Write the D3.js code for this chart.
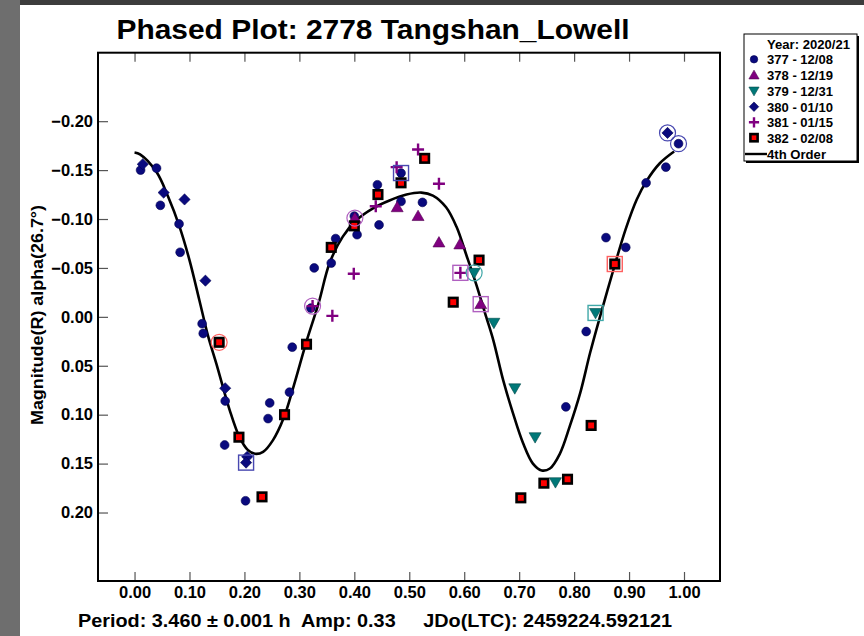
<!DOCTYPE html>
<html>
<head>
<meta charset="utf-8">
<script src="https://cdn.jsdelivr.net/npm/d3@7"></script>
<style>
  html, body { margin: 0; padding: 0; background: #ffffff; }
  svg { display: block; }
  text { font-family: "Liberation Sans", Arial, Helvetica, sans-serif; font-weight: bold; fill: #000; }
</style>
</head>
<body>
<svg id="chart" width="864" height="636"></svg>
<script>
// ---- Observation sessions (phase, reduced magnitude) ----
// First point of each session gets a ring, last point a box.
const s377Phase = [0.990, 0.011, 0.040, 0.047, 0.081, 0.083, 0.123, 0.125, 0.165, 0.164, 0.202, 0.243, 0.246, 0.282, 0.287, 0.321, 0.327, 0.358, 0.366, 0.400, 0.405, 0.442, 0.445, 0.485, 0.524, 0.785, 0.822, 0.858, 0.894, 0.931, 0.967, 0.485];
const s377Mag   = [-0.177, -0.150, -0.152, -0.114, -0.095, -0.066, 0.007, 0.017, 0.086, 0.131, 0.188, 0.104, 0.088, 0.077, 0.031, -0.009, -0.050, -0.055, -0.080, -0.103, -0.084, -0.135, -0.094, -0.118, -0.117, 0.092, 0.015, -0.081, -0.071, -0.137, -0.153, -0.147];

const s378Phase = [0.401, 0.478, 0.516, 0.554, 0.592, 0.630];
const s378Mag   = [-0.101, -0.112, -0.103, -0.076, -0.074, -0.013];

const s379Phase = [0.618, 0.654, 0.692, 0.729, 0.766, 0.839];
const s379Mag   = [-0.045, 0.006, 0.073, 0.123, 0.169, -0.004];

const s380Phase = [0.970, 0.015, 0.053, 0.091, 0.129, 0.165, 0.205, 0.203];
const s380Mag   = [-0.188, -0.156, -0.127, -0.120, -0.037, 0.073, 0.143, 0.149];

const s381Phase = [0.324, 0.360, 0.399, 0.439, 0.477, 0.516, 0.554, 0.593];
const s381Mag   = [-0.011, -0.001, -0.044, -0.113, -0.153, -0.171, -0.136, -0.045];

const s382Phase = [0.154, 0.190, 0.232, 0.273, 0.313, 0.358, 0.400, 0.443, 0.485, 0.528, 0.580, 0.627, 0.703, 0.745, 0.788, 0.831, 0.874];
const s382Mag   = [0.026, 0.123, 0.184, 0.100, 0.028, -0.071, -0.093, -0.125, -0.137, -0.162, -0.015, -0.058, 0.185, 0.170, 0.166, 0.111, -0.054];

// 4th order Fourier fit, sampled
const fitPhase = [0.000, 0.010, 0.040, 0.061, 0.082, 0.100, 0.118, 0.134, 0.149, 0.173, 0.191, 0.206, 0.219, 0.234, 0.252, 0.271, 0.290, 0.313, 0.335, 0.355, 0.379, 0.404, 0.434, 0.464, 0.495, 0.522, 0.543, 0.567, 0.586, 0.604, 0.622, 0.640, 0.653, 0.671, 0.689, 0.707, 0.725, 0.741, 0.756, 0.774, 0.792, 0.811, 0.829, 0.847, 0.874, 0.894, 0.914, 0.932, 0.956, 0.982];
const fitMag   = [-0.168, -0.166, -0.148, -0.123, -0.092, -0.058, -0.017, 0.020, 0.048, 0.095, 0.123, 0.136, 0.140, 0.138, 0.126, 0.104, 0.070, 0.025, -0.014, -0.055, -0.082, -0.099, -0.111, -0.119, -0.125, -0.127, -0.124, -0.112, -0.092, -0.063, -0.033, 0.000, 0.024, 0.065, 0.099, 0.129, 0.150, 0.157, 0.155, 0.140, 0.112, 0.078, 0.037, 0.000, -0.053, -0.090, -0.120, -0.139, -0.157, -0.169];

const xTicks = [0, 0.1, 0.2, 0.3, 0.4, 0.5, 0.6, 0.7, 0.8, 0.9, 1.0];
const yTicks = [-0.20, -0.15, -0.10, -0.05, 0.00, 0.05, 0.10, 0.15, 0.20];

const legendLabels = ["377 - 12/08", "378 - 12/19", "379 - 12/31", "380 - 01/10", "381 - 01/15", "382 - 02/08"];

// ---- Layout ----
const svg = d3.select("#chart");
const W = 864, H = 636;
const plot = { left: 98, right: 720, top: 52.7, bottom: 581 };

// page backdrop
svg.append("rect").attr("x", 0).attr("y", 0).attr("width", W).attr("height", H).attr("fill", "#ffffff");
svg.append("rect").attr("x", 0).attr("y", 0).attr("width", W).attr("height", 5).attr("fill", "#3c3c3c");
svg.append("rect").attr("x", 0).attr("y", 0).attr("width", 20).attr("height", H).attr("fill", "#6e6e6e");

const x = d3.scaleLinear().domain([-0.0665, 1.0655]).range([plot.left, plot.right]);
const y = d3.scaleLinear().domain([-0.27, 0.27]).range([plot.top, plot.bottom]);

// ---- Axes ----
const fmt = d3.format(".2f");
const gx = svg.append("g").attr("transform", `translate(0,${plot.bottom})`)
  .call(d3.axisBottom(x).tickValues(xTicks).tickSizeInner(-9).tickSizeOuter(0).tickPadding(5).tickFormat(fmt));
const gxTop = svg.append("g").attr("transform", `translate(0,${plot.top})`)
  .call(d3.axisTop(x).tickValues(xTicks).tickSizeInner(-9).tickSizeOuter(0).tickFormat(""));
const gy = svg.append("g").attr("transform", `translate(${plot.left},0)`)
  .call(d3.axisLeft(y).tickValues(yTicks).tickSizeInner(-10).tickSizeOuter(0).tickPadding(5).tickFormat(fmt));

[gx, gxTop, gy].forEach(g => {
  g.select(".domain").remove();
  g.selectAll(".tick line").attr("stroke", "#555").attr("stroke-width", 1.2);
  g.selectAll(".tick text").style("font-size", "16.5px").style("font-family", '"Liberation Sans", Arial, sans-serif').style("font-weight", "bold").attr("fill", "#000");
});

// ---- Fit curve ----
const fitPts = fitPhase.map((p, i) => [p, fitMag[i]]);
svg.append("path")
  .datum(fitPts)
  .attr("fill", "none")
  .attr("stroke", "#000")
  .attr("stroke-width", 2.6)
  .attr("stroke-linejoin", "round")
  .attr("d", d3.line().x(d => x(d[0])).y(d => y(d[1])).curve(d3.curveCatmullRom.alpha(0.5)));

// ---- Markers ----
const series = [
  { phase: s377Phase, mag: s377Mag, kind: "circle",  fill: "#0a0a7e", stroke: "#000050", hl: "#4848b0" },
  { phase: s378Phase, mag: s378Mag, kind: "triUp",   fill: "#800080", stroke: "#500050", hl: "#b060c0" },
  { phase: s379Phase, mag: s379Mag, kind: "triDown", fill: "#007878", stroke: "#004848", hl: "#40a8a8" },
  { phase: s380Phase, mag: s380Mag, kind: "diamond", fill: "#0a0a7e", stroke: "#000050", hl: "#4848b0" },
  { phase: s381Phase, mag: s381Mag, kind: "plus",    fill: "#800080", stroke: "#800080", hl: "#b060c0" },
  { phase: s382Phase, mag: s382Mag, kind: "square",  fill: "#ff0000", stroke: "#000000", hl: "#ff6060" }
];

function drawMarker(g, kind, fill, stroke, scale) {
  const k = scale || 1;
  if (kind === "circle") {
    g.append("circle").attr("r", 4.4 * k).attr("fill", fill).attr("stroke", stroke).attr("stroke-width", 0.6);
  } else if (kind === "diamond") {
    const a = 5.6 * k;
    g.append("path").attr("d", `M0,${-a}L${a},0L0,${a}L${-a},0Z`).attr("fill", fill).attr("stroke", stroke).attr("stroke-width", 0.6);
  } else if (kind === "triUp") {
    g.append("path").attr("d", d3.symbol(d3.symbolTriangle, 62 * k * k)()).attr("transform", "translate(0,1)").attr("fill", fill).attr("stroke", stroke).attr("stroke-width", 0.6);
  } else if (kind === "triDown") {
    g.append("path").attr("d", d3.symbol(d3.symbolTriangle, 62 * k * k)()).attr("transform", "translate(0,-1) rotate(180)").attr("fill", fill).attr("stroke", stroke).attr("stroke-width", 0.6);
  } else if (kind === "plus") {
    const a = 6 * k;
    g.append("path").attr("d", `M${-a},0H${a}M0,${-a}V${a}`).attr("fill", "none").attr("stroke", fill).attr("stroke-width", 2.4);
  } else if (kind === "square") {
    const s = 8.5 * k;
    g.append("rect").attr("x", -s / 2).attr("y", -s / 2).attr("width", s).attr("height", s)
      .attr("fill", fill).attr("stroke", stroke).attr("stroke-width", 2.6);
  }
}

const markLayer = svg.append("g");
series.forEach(s => {
  s.phase.forEach((p, i) => {
    const g = markLayer.append("g").attr("transform", `translate(${x(p)},${y(s.mag[i])})`);
    drawMarker(g, s.kind, s.fill, s.stroke);
  });
});

// session start rings and end boxes
const hlLayer = svg.append("g");
series.forEach(s => {
  const n = s.phase.length;
  hlLayer.append("circle")
    .attr("cx", x(s.phase[0])).attr("cy", y(s.mag[0])).attr("r", 8)
    .attr("fill", "none").attr("stroke", s.hl).attr("stroke-width", 1.2);
  hlLayer.append("rect")
    .attr("x", x(s.phase[n - 1]) - 7.5).attr("y", y(s.mag[n - 1]) - 7.5)
    .attr("width", 15).attr("height", 15)
    .attr("fill", "none").attr("stroke", s.hl).attr("stroke-width", 1.4);
});

// ---- Frame ----
svg.append("rect")
  .attr("x", plot.left).attr("y", plot.top)
  .attr("width", plot.right - plot.left).attr("height", plot.bottom - plot.top)
  .attr("fill", "none").attr("stroke", "#000").attr("stroke-width", 2);

// ---- Titles ----
svg.append("text")
  .attr("x", 373).attr("y", 39)
  .attr("text-anchor", "middle")
  .attr("textLength", 513).attr("lengthAdjust", "spacingAndGlyphs")
  .style("font-size", "28px")
  .text("Phased Plot: 2778 Tangshan_Lowell");

svg.append("text")
  .attr("x", 78).attr("y", 627)
  .attr("textLength", 594).attr("lengthAdjust", "spacingAndGlyphs")
  .style("font-size", "18px")
  .attr("xml:space", "preserve")
  .text("Period: 3.460 \u00b1 0.001 h  Amp: 0.33     JDo(LTC): 2459224.592121");

svg.append("text")
  .attr("transform", "translate(43,315) rotate(-90)")
  .attr("text-anchor", "middle")
  .attr("textLength", 220).attr("lengthAdjust", "spacingAndGlyphs")
  .style("font-size", "16px")
  .text("Magnitude(R) alpha(26.7\u00b0)");

// ---- Legend ----
const lg = svg.append("g");
lg.append("rect").attr("x", 746).attr("y", 36).attr("width", 113).attr("height", 127).attr("fill", "#000");
lg.append("rect").attr("x", 744).attr("y", 34).attr("width", 113).attr("height", 127)
  .attr("fill", "#fff").attr("stroke", "#000").attr("stroke-width", 1);
lg.append("text").attr("x", 767).attr("y", 48.5).style("font-size", "12.5px")
  .attr("textLength", 83).attr("lengthAdjust", "spacingAndGlyphs").text("Year: 2020/21");
const rowY = [59.3, 75, 91, 106.7, 122.3, 137.7];
series.forEach((s, i) => {
  const g = lg.append("g").attr("transform", `translate(754,${rowY[i]})`);
  drawMarker(g, s.kind, s.fill, s.stroke, 0.85);
  lg.append("text").attr("x", 767).attr("y", rowY[i] + 4.8).style("font-size", "13px")
    .attr("textLength", 66).attr("lengthAdjust", "spacingAndGlyphs").text(legendLabels[i]);
});
lg.append("line").attr("x1", 745).attr("x2", 767).attr("y1", 154).attr("y2", 154)
  .attr("stroke", "#000").attr("stroke-width", 2.4);
lg.append("text").attr("x", 767).attr("y", 158.8).style("font-size", "13px")
  .attr("textLength", 59).attr("lengthAdjust", "spacingAndGlyphs").text("4th Order");
</script>
</body>
</html>
